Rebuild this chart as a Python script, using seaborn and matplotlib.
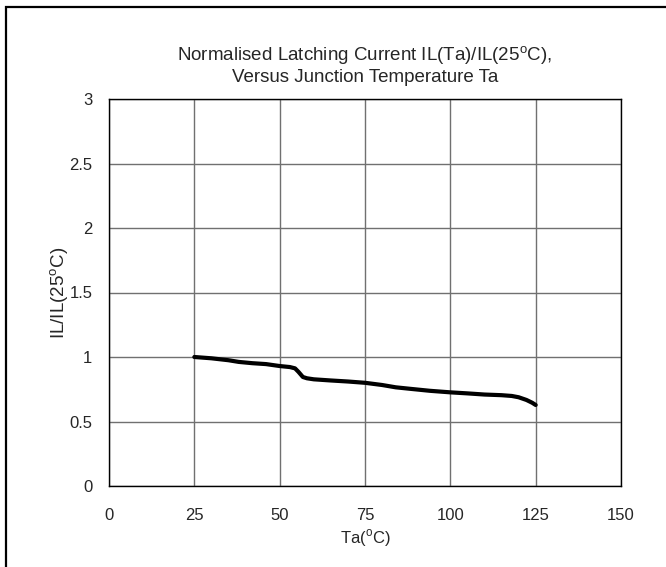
import pandas as pd
import seaborn as sns
import matplotlib
matplotlib.use('Agg')
import matplotlib.pyplot as plt
from matplotlib.patches import Rectangle

# 曲线数据
temp = [25, 30, 35, 38, 42, 46, 50, 53, 54.5, 55.5, 56.8, 58, 60, 65, 70, 75, 80, 84, 88, 94, 100, 105, 110, 115, 118, 120, 122.3, 124, 125]
ratio = [1.0, 0.99, 0.975, 0.962, 0.952, 0.945, 0.93, 0.922, 0.912, 0.885, 0.845, 0.835, 0.827, 0.818, 0.81, 0.80, 0.783, 0.765, 0.754, 0.738, 0.726, 0.718, 0.709, 0.704, 0.698, 0.688, 0.667, 0.645, 0.628]
x_ticks = [0, 25, 50, 75, 100, 125, 150]
y_ticks = [0, 0.5, 1, 1.5, 2, 2.5, 3]
y_labels = ['0', '0.5', '1', '1.5', '2', '2.5', '3']

df = pd.DataFrame({'Ta': temp, 'ratio': ratio})

sns.set_style('white')
plt.rcParams['font.family'] = ['Liberation Sans', 'DejaVu Sans']
plt.rcParams['mathtext.fontset'] = 'custom'
plt.rcParams['mathtext.rm'] = 'Liberation Sans'

fig = plt.figure(figsize=(6.66, 5.67), dpi=100)
ax = fig.add_axes([109 / 666, 1 - 486 / 567, 512 / 666, 387 / 567])

sns.lineplot(data=df, x='Ta', y='ratio', color='black', linewidth=3, ax=ax)

ax.set_xlim(0, 150)
ax.set_ylim(0, 3)
ax.set_xticks(x_ticks)
ax.set_yticks(y_ticks)
ax.set_yticklabels(y_labels)
ax.grid(True, color='#707070', linewidth=1)
for s in ax.spines.values():
    s.set_color('black')
    s.set_linewidth(1)
ax.tick_params(axis='both', labelsize=12, length=3, color='black', pad=9)
ax.tick_params(axis='x', pad=13)

ax.set_xlabel(r'Ta($^{\rm o}$C)', fontsize=12, labelpad=3)
ax.set_ylabel(r'IL/IL(25$^{\rm o}$C)', fontsize=13.5, labelpad=-1)
ax.set_title('Normalised Latching Current IL(Ta)/IL(25$^{\\rm o}$C),\nVersus Junction Temperature Ta',
             fontsize=13.5, pad=12, linespacing=1.2)

# 外框
fig.patches.append(Rectangle((6 / 666, -0.1), 1.2, 1 - 7 / 567 + 0.1, transform=fig.transFigure,
                             fill=False, edgecolor='black', linewidth=1.6))

fig.savefig('out.png', dpi=100)
